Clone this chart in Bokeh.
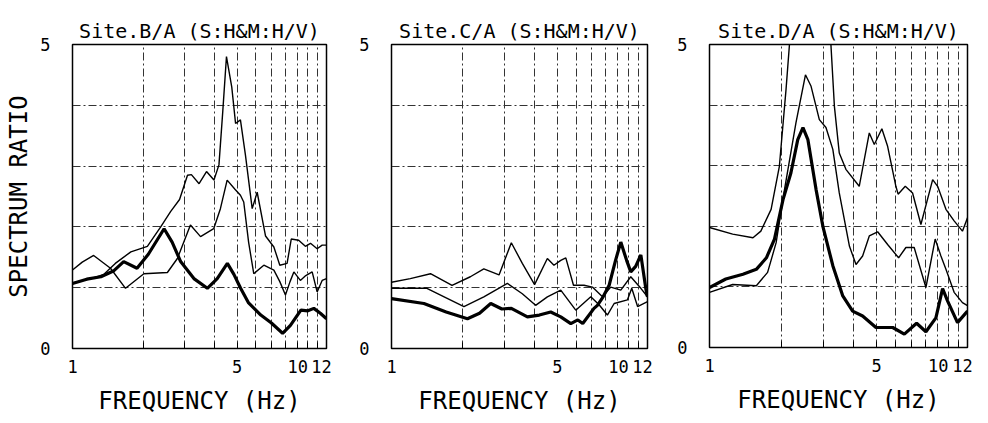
from bokeh.plotting import figure
from bokeh.layouts import row
from bokeh.models import Range1d, FixedTicker, Grid
from bokeh.embed import file_html
from bokeh.resources import INLINE

FONT = "DejaVu Sans Mono"

# ---------------- Panel 1 : Site.B/A ----------------
b_upper_f = [1.0, 1.2, 1.36, 1.52, 1.77, 2.08, 2.37, 2.61, 2.85, 3.08, 3.2, 3.45, 3.71, 3.99, 4.19, 4.35, 4.51, 4.75, 4.93, 5.17, 5.43, 5.80, 6.09, 6.61, 7.17, 7.60, 8.16, 8.50, 9.14, 9.76, 10.26, 10.95, 11.5, 12.0]
b_upper_y = [1.08, 1.15, 1.22, 1.40, 1.59, 1.68, 2.00, 2.25, 2.45, 2.85, 2.86, 2.71, 2.91, 2.77, 3.02, 3.90, 4.80, 4.30, 3.70, 3.76, 3.18, 2.30, 2.57, 1.85, 1.67, 1.37, 1.40, 1.80, 1.78, 1.68, 1.73, 1.64, 1.70, 1.70]

b_mid_f = [1.0, 1.1, 1.23, 1.45, 1.68, 2.01, 2.53, 2.79, 3.17, 3.50, 3.98, 4.25, 4.54, 4.90, 5.17, 5.34, 5.60, 5.89, 6.50, 7.17, 7.60, 8.03, 8.40, 8.72, 9.29, 9.80, 10.43, 10.95, 11.5, 12.0]
b_mid_y = [1.29, 1.42, 1.53, 1.32, 0.99, 1.23, 1.25, 1.48, 2.03, 1.84, 1.97, 2.30, 2.77, 2.62, 2.52, 2.41, 1.75, 1.23, 1.37, 1.29, 1.10, 0.88, 1.10, 1.26, 1.12, 1.20, 1.26, 0.93, 1.12, 1.15]

b_thick_f = [1.0, 1.15, 1.32, 1.50, 1.65, 1.88, 2.10, 2.45, 2.65, 2.88, 3.28, 3.74, 4.12, 4.55, 4.85, 5.18, 5.6, 6.31, 7.0, 7.81, 8.43, 9.34, 10.0, 10.6, 11.3, 12.0]
b_thick_y = [1.07, 1.14, 1.18, 1.28, 1.43, 1.32, 1.55, 1.97, 1.75, 1.43, 1.15, 0.99, 1.15, 1.40, 1.22, 0.99, 0.75, 0.55, 0.42, 0.25, 0.38, 0.63, 0.62, 0.66, 0.58, 0.49]

# ---------------- Panel 2 : Site.C/A ----------------
c_upper_f = [1.0, 1.2, 1.46, 1.80, 2.15, 2.45, 2.84, 3.20, 3.56, 4.01, 4.54, 4.84, 5.17, 5.43, 5.85, 6.48, 7.03, 7.75, 8.40, 9.26, 10.2, 11.25, 12.0]
c_upper_y = [1.09, 1.15, 1.23, 1.04, 1.18, 1.31, 1.21, 1.74, 1.40, 1.05, 1.48, 1.37, 1.45, 1.49, 1.04, 1.04, 1.01, 0.85, 1.01, 0.96, 1.18, 0.99, 0.85]

c_mid_f = [1.0, 1.41, 2.02, 2.45, 3.08, 3.56, 4.05, 4.54, 5.17, 5.98, 6.92, 7.5, 8.13, 8.68, 9.88, 10.3, 10.9, 12.0]
c_mid_y = [0.99, 0.99, 0.69, 0.85, 1.07, 0.90, 0.71, 0.85, 0.96, 0.63, 0.85, 0.72, 0.55, 0.74, 0.80, 0.99, 0.69, 0.77]

c_thick_f = [1.0, 1.37, 1.7, 2.09, 2.35, 2.62, 2.92, 3.2, 3.74, 4.2, 4.69, 5.17, 5.70, 6.1, 6.4, 7.14, 7.38, 7.8, 8.27, 8.8, 9.26, 9.8, 10.2, 10.7, 11.25, 11.8, 12.0]
c_thick_y = [0.82, 0.74, 0.60, 0.49, 0.58, 0.74, 0.65, 0.66, 0.52, 0.55, 0.60, 0.52, 0.41, 0.47, 0.41, 0.66, 0.71, 0.85, 1.04, 1.45, 1.75, 1.45, 1.26, 1.35, 1.54, 0.99, 0.85]

# ---------------- Panel 3 : Site.D/A ----------------
d_upper_f = [1.0, 1.25, 1.52, 1.64, 1.81, 1.96, 2.09, 2.16, 2.35, 2.6, 2.9, 3.22, 3.33, 3.49, 3.72, 4.23, 4.66, 4.89, 5.26, 5.56, 6.02, 6.15, 6.59, 7.07, 7.66, 8.58, 9.0, 9.75, 10.55, 11.43, 12.0]
d_upper_y = [1.98, 1.87, 1.81, 1.92, 2.28, 2.99, 4.26, 5.0, 6.3, 6.8, 6.2, 5.0, 3.98, 3.21, 2.94, 2.66, 3.54, 3.35, 3.61, 3.32, 2.66, 2.53, 2.66, 2.55, 2.03, 2.77, 2.66, 2.28, 2.09, 1.92, 2.14]

d_mid_f = [1.0, 1.25, 1.57, 1.75, 1.90, 2.06, 2.30, 2.52, 2.66, 2.88, 3.07, 3.28, 3.49, 3.85, 4.10, 4.37, 4.66, 5.05, 5.56, 6.18, 6.63, 7.18, 8.04, 8.79, 9.29, 9.75, 10.55, 11.43, 12.0]
d_mid_y = [0.91, 1.04, 1.02, 1.24, 1.73, 2.61, 3.71, 4.50, 4.31, 3.76, 3.63, 3.27, 2.55, 1.67, 1.37, 1.51, 1.84, 1.91, 1.70, 1.48, 1.65, 1.65, 0.99, 1.79, 1.51, 1.29, 0.91, 0.74, 0.69]

d_thick_f = [1.0, 1.17, 1.38, 1.57, 1.73, 1.87, 2.03, 2.19, 2.34, 2.46, 2.58, 2.79, 2.98, 3.28, 3.61, 3.97, 4.37, 4.97, 5.84, 6.53, 7.35, 8.04, 8.85, 9.44, 9.90, 10.9, 12.0]
d_thick_y = [0.99, 1.13, 1.21, 1.29, 1.48, 1.79, 2.44, 2.88, 3.43, 3.63, 3.43, 2.61, 2.0, 1.35, 0.85, 0.60, 0.52, 0.33, 0.33, 0.22, 0.40, 0.26, 0.49, 0.97, 0.77, 0.41, 0.60]

titles = ["Site.B/A (S:H&M:H/V)", "Site.C/A (S:H&M:H/V)", "Site.D/A (S:H&M:H/V)"]
x_ticks = [1, 2, 3, 4, 5, 6, 7, 8, 9, 10, 11, 12]
x_tick_labels = {1: "1", 5: "5", 10: "10\u00a0\u00a0", 12: "12\u00a0"}
y_ticks = [0, 5]
y_grid = [1, 2, 3, 4]
x_label = "FREQUENCY (Hz)"
y_label = "SPECTRUM RATIO"


def make_panel(title, curves, left, fw, right, top, fh, ylabel, solid_minor=False):
    p = figure(x_axis_type="log", x_range=Range1d(1, 12), y_range=Range1d(0, 5),
               frame_width=fw, frame_height=fh,
               min_border_left=left, min_border_right=right,
               min_border_top=top, min_border_bottom=60,
               output_backend="svg", toolbar_location=None, title=title)
    p.background_fill_color = "white"
    p.border_fill_color = "white"
    p.outline_line_color = "black"
    p.outline_line_width = 1.5
    p.title.text_font = FONT
    p.title.text_font_size = "20px"
    p.title.text_font_style = "normal"
    p.title.text_color = "black"
    p.title.align = "center"
    p.title.standoff = 4

    xa = p.xaxis[0]
    xa.ticker = FixedTicker(ticks=x_ticks, minor_ticks=[])
    xa.major_label_overrides = {t: x_tick_labels.get(t, "") for t in x_ticks}
    xa.major_tick_in = 6
    xa.major_tick_out = 0
    xa.minor_tick_line_color = None
    xa.major_label_standoff = 8
    xa.major_label_text_font = FONT
    xa.major_label_text_font_size = "17px"
    xa.major_label_text_color = "black"
    xa.axis_label = x_label
    xa.axis_label_text_font = FONT
    xa.axis_label_text_font_size = "24px"
    xa.axis_label_text_font_style = "normal"
    xa.axis_label_text_color = "black"
    xa.axis_label_standoff = 7
    xa.axis_line_color = "black"

    ya = p.yaxis[0]
    ya.ticker = FixedTicker(ticks=y_ticks, minor_ticks=[])
    ya.major_tick_in = 0
    ya.major_tick_out = 0
    ya.minor_tick_line_color = None
    ya.major_label_standoff = 22
    ya.major_label_text_font = FONT
    ya.major_label_text_font_size = "17px"
    ya.major_label_text_color = "black"
    ya.axis_line_color = "black"
    if ylabel:
        ya.axis_label = y_label
        ya.axis_label_text_font = FONT
        ya.axis_label_text_font_size = "24px"
        ya.axis_label_text_font_style = "normal"
        ya.axis_label_text_color = "black"
        ya.axis_label_standoff = 4

    if solid_minor:
        p.xgrid.ticker = FixedTicker(ticks=[2, 3, 4, 5])
        g2 = Grid(dimension=0, ticker=FixedTicker(ticks=[6, 7, 8, 9, 10, 11]),
                  grid_line_color="#222222", grid_line_width=1)
        p.add_layout(g2)
    else:
        p.xgrid.ticker = FixedTicker(ticks=[2, 3, 4, 5, 6, 7, 8, 9, 10, 11])
    p.xgrid.grid_line_color = "#333333"
    p.xgrid.grid_line_dash = "8 3 2 3"
    p.xgrid.grid_line_width = 1
    p.ygrid.ticker = FixedTicker(ticks=y_grid)
    p.ygrid.grid_line_color = "#333333"
    p.ygrid.grid_line_dash = "8 3 2 3"
    p.ygrid.grid_line_width = 1

    for (f, y, w) in curves:
        p.line(f, y, line_color="black", line_width=w)
    return p


p1 = make_panel(titles[0], [(b_upper_f, b_upper_y, 1.4), (b_mid_f, b_mid_y, 1.4), (b_thick_f, b_thick_y, 3.2)],
                72, 254, 19, 44, 304, True)
p2 = make_panel(titles[1], [(c_upper_f, c_upper_y, 1.4), (c_mid_f, c_mid_y, 1.4), (c_thick_f, c_thick_y, 3.2)],
                46, 256, 25, 44, 304, False, solid_minor=True)
p3 = make_panel(titles[2], [(d_upper_f, d_upper_y, 1.4), (d_mid_f, d_mid_y, 1.4), (d_thick_f, d_thick_y, 3.2)],
                37, 258, 17, 44, 303, False)

layout = row(p1, p2, p3)
open("out.html", "w").write(file_html(layout, INLINE))
